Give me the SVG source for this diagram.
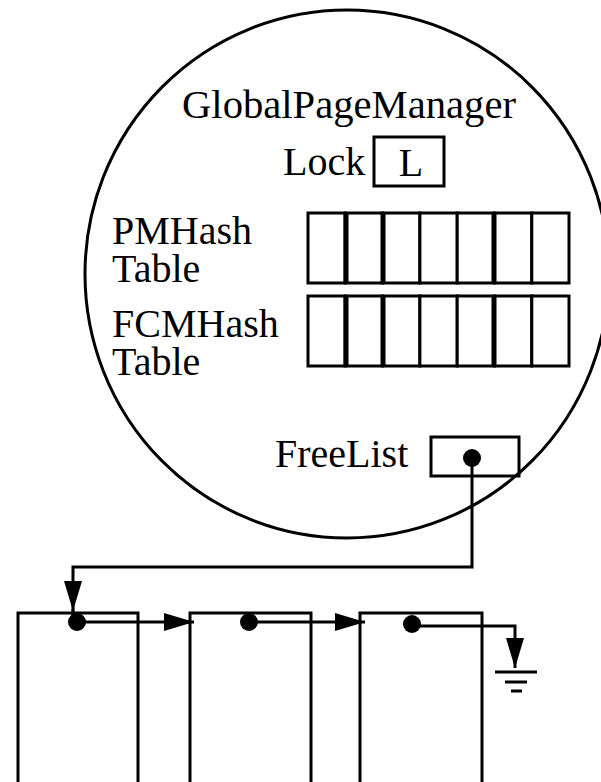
<svg xmlns="http://www.w3.org/2000/svg" width="601" height="782" viewBox="0 0 601 782">
  <style>
    .ln { fill: none; stroke: #000; stroke-width: 3; }
    .cell { fill: #fff; stroke: #000; stroke-width: 3; }
    .thick { stroke: #000; stroke-width: 5; }
    .dot { fill: #000; }
    .lbl { font-family: "Liberation Serif", "Times New Roman", serif; font-size: 40px; fill: #000; }
  </style>
  <defs>
    <marker id="arrow" viewBox="0 0 30 18" refX="30" refY="9" markerWidth="30" markerHeight="18" markerUnits="userSpaceOnUse" orient="auto">
      <path d="M0,0 L30,9 L0,18 Z" fill="#000"/>
    </marker>
    <g id="hash-row">
      <rect class="cell" x="308" y="0" width="37.3" height="70"/>
      <rect class="cell" x="345.3" y="0" width="37.3" height="70"/>
      <rect class="cell" x="382.6" y="0" width="37.3" height="70"/>
      <rect class="cell" x="419.9" y="0" width="37.3" height="70"/>
      <rect class="cell" x="457.2" y="0" width="37.3" height="70"/>
      <rect class="cell" x="494.5" y="0" width="37.3" height="70"/>
      <rect class="cell" x="531.8" y="0" width="37.2" height="70"/>
      <line class="thick" x1="346" y1="0" x2="346" y2="70"/>
      <line class="thick" x1="383" y1="0" x2="383" y2="70"/>
      <line class="thick" x1="494" y1="0" x2="494" y2="70"/>
    </g>
  </defs>

  <rect x="0" y="0" width="601" height="782" fill="#fff"/>

  <!-- the manager object -->
  <g id="global-page-manager">
    <ellipse class="ln" cx="347" cy="274" rx="262" ry="264"/>
    <text class="lbl" x="182" y="118" textLength="334" lengthAdjust="spacingAndGlyphs">GlobalPageManager</text>
  </g>

  <g id="lock">
    <text class="lbl" x="283" y="175">Lock</text>
    <rect class="ln" x="374" y="137" width="70" height="49"/>
    <text class="lbl" x="411" y="176" text-anchor="middle">L</text>
  </g>

  <g id="pm-hash-table">
    <text class="lbl"><tspan x="112" y="244">PMHash</tspan><tspan x="112" y="282">Table</tspan></text>
    <use href="#hash-row" y="213"/>
  </g>

  <g id="fcm-hash-table">
    <text class="lbl"><tspan x="112" y="337">FCMHash</tspan><tspan x="112" y="375">Table</tspan></text>
    <use href="#hash-row" y="296"/>
  </g>

  <g id="freelist">
    <text class="lbl" x="275" y="467">FreeList</text>
    <rect class="ln" x="431" y="437" width="88" height="39"/>
    <circle class="dot" cx="472" cy="458" r="9"/>
  </g>

  <!-- free pages -->
  <g id="page-1">
    <path class="ln" d="M18,790 V613 H138 V790"/>
    <circle class="dot" cx="77" cy="622" r="9"/>
  </g>
  <g id="page-2">
    <path class="ln" d="M190,790 V613 H311 V790"/>
    <circle class="dot" cx="249" cy="622" r="9"/>
  </g>
  <g id="page-3">
    <path class="ln" d="M360,790 V613 H482 V790"/>
    <circle class="dot" cx="412" cy="624" r="9"/>
  </g>

  <g id="ground">
    <line class="ln" x1="495" y1="672" x2="537" y2="672"/>
    <line class="ln" x1="505" y1="682" x2="527" y2="682"/>
    <line class="ln" x1="511" y1="691" x2="522" y2="691"/>
  </g>

  <!-- pointers -->
  <g id="connectors">
    <path class="ln" d="M472,458 V567 H73 V611" marker-end="url(#arrow)"/>
    <path class="ln" d="M73,609 V622 H77"/>
    <path class="ln" d="M77,622 H194" marker-end="url(#arrow)"/>
    <path class="ln" d="M249,622 H365" marker-end="url(#arrow)"/>
    <path class="ln" d="M412,626 H515 V668" marker-end="url(#arrow)"/>
  </g>
</svg>
